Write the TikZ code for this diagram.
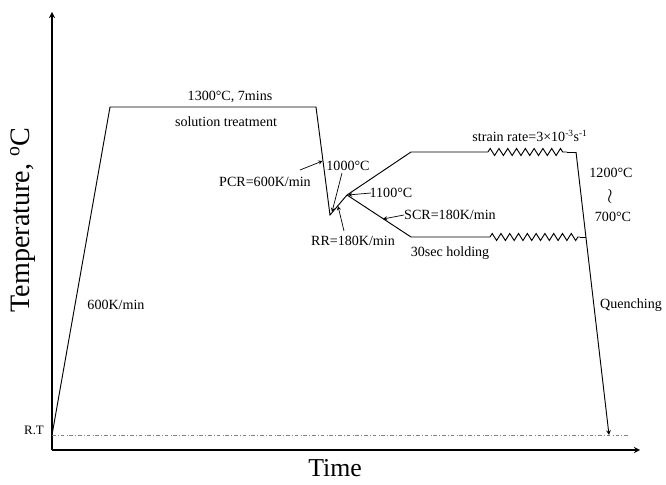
\documentclass[tikz,border=0pt]{standalone}
\usepackage{fontspec}
\setmainfont{Liberation Serif}
\usetikzlibrary{arrows,decorations.pathmorphing}
\tikzstyle{axis} = [line width=1.3pt,->,>=stealth]
\tikzstyle{curve} = [line width=0.8pt]
\tikzstyle{spring} = [line width=0.8pt, decorate, decoration={zigzag, segment length=7.5pt, amplitude=3pt}]
\tikzstyle{label} = [font=\fontsize{12}{14}\selectfont, inner sep=1pt]
\tikzstyle{title} = [font=\fontsize{22}{24}\selectfont, inner sep=1pt]
\tikzstyle{arrow} = [line width=0.6pt,->,>=stealth]

\begin{document}
\begin{tikzpicture}[x=0.03cm, y=-0.03cm]
\useasboundingbox (0,0) rectangle (666,485);
% axes
\coordinate (origin) at (52,450);
\coordinate (ytip) at (52,12);
\coordinate (xtip) at (640,450);
\draw [axis] (origin) -- (ytip);
\draw [axis] (origin) -- (xtip);
\node (ylabel) [title, font=\fontsize{24}{26}\selectfont, rotate=90] at (23,220) {Temperature, \textsuperscript{o}C};
\node (xlabel) [title] at (335,468) {Time};
% room temperature
\coordinate (rt) at (52,435);
\coordinate (rtend) at (630,435);
\draw [dash dot, gray, line width=0.5pt] (rt) -- (rtend);
\node (rtlabel) [label, font=\fontsize{11}{13}\selectfont] at (34,430) {R.T};
% profile points
\coordinate (heat) at (110,107);
\coordinate (hold) at (316,107);
\coordinate (low) at (330,215);
\coordinate (peak) at (347,195);
\coordinate (up1) at (411,152);
\coordinate (zu1) at (488,152);
\coordinate (zu2) at (567,152);
\coordinate (up2) at (576,152);
\coordinate (lo1) at (411,237);
\coordinate (zl1) at (490,237);
\coordinate (zl2) at (580,237);
\coordinate (lo2) at (585.5,237);
\coordinate (quench) at (609,435);
\draw [curve] (rt) -- (heat) -- (hold) -- (low) -- (peak) -- (up1) -- (zu1);
\draw [spring] (zu1) -- (zu2);
\draw [curve] (zu2) -- (up2);
\draw [curve, ->, >=stealth] (up2) -- (quench);
\draw [curve] (peak) -- (lo1) -- (zl1);
\draw [spring] (zl1) -- (zl2);
\draw [curve] (zl2) -- (lo2);
% labels
\node (sol1) [label] at (230,97) {1300°C, 7mins};
\node (sol2) [label] at (226,122) {solution treatment};
\node (heatrate) [label] at (116,305) {600K/min};
\node (pcr) [label] at (265,182) {PCR=600K/min};
\node (t1000) [label] at (348,166) {1000°C};
\node (t1100) [label] at (391,193) {1100°C};
\node (rr) [label] at (353,241) {RR=180K/min};
\node (scr) [label] at (450,215) {SCR=180K/min};
\node (holding) [label] at (450,253) {30sec holding};
\node (strain) [label] at (530,136) {strain rate=3×10\textsuperscript{-3}s\textsuperscript{-1}};
\node (t1200) [label] at (611,173) {1200°C};
\node (tilde) [inner sep=0pt, font=\fontsize{16}{16}\selectfont] at (610,196) {$\wr$};
\node (t700) [label] at (613,217) {700°C};
\node (quenching) [label] at (631,305) {Quenching};
% annotation arrows
\coordinate (pcrtail) at (300,170);
\coordinate (pcrhead) at (322.5,161);
\coordinate (t1000tail) at (342,173);
\coordinate (t1000head) at (332,212);
\coordinate (t1100tail) at (371,193);
\coordinate (t1100head) at (348,195);
\coordinate (rrtail) at (344,231);
\coordinate (rrhead) at (338,206);
\coordinate (scrtail) at (404,215);
\coordinate (scrhead) at (383,219);
\draw [arrow] (pcrtail) -- (pcrhead);
\draw [arrow] (t1000tail) -- (t1000head);
\draw [arrow] (t1100tail) -- (t1100head);
\draw [arrow] (rrtail) -- (rrhead);
\draw [arrow] (scrtail) -- (scrhead);
\end{tikzpicture}
\end{document}
